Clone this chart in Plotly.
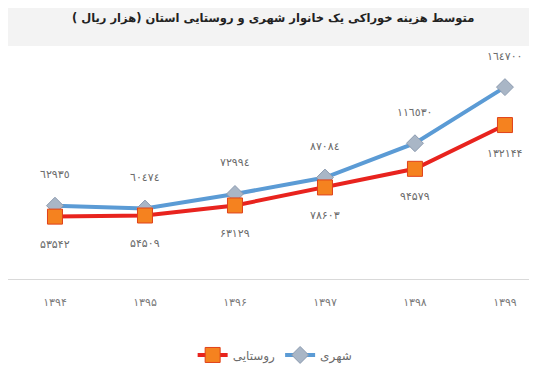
import plotly.graph_objects as go

years = ["۱۳۹۴", "۱۳۹۵", "۱۳۹۶", "۱۳۹۷", "۱۳۹۸", "۱۳۹۹"]
urban = [62935, 60474, 72994, 87084, 116530, 164700]
rural = [53542, 54509, 63129, 78603, 94579, 132144]
urban_name = "شهری"
rural_name = "روستایی"
title = "متوسط هزینه خوراکی یک خانوار شهری و روستایی استان (هزار ریال )"

AR = "٠١٢٣٤٥٦٧٨٩"
FA = "۰۱۲۳۴۵۶۷۸۹"


def to_digits(n, table):
    return "".join(table[int(c)] for c in str(n))


fig = go.Figure()
fig.add_trace(go.Scatter(
    x=years, y=urban, name=urban_name, mode="lines+markers",
    line=dict(color="#5B9BD5", width=4),
    marker=dict(symbol="diamond", size=13, color="#A9B6C6",
                line=dict(color="#8C9BB0", width=1)),
))
fig.add_trace(go.Scatter(
    x=years, y=rural, name=rural_name, mode="lines+markers",
    line=dict(color="#E8231E", width=4),
    marker=dict(symbol="square", size=15, color="#F5821F",
                line=dict(color="#E0401A", width=1)),
))

ann = []
for x, v in zip(years, urban):
    ann.append(dict(x=x, y=v, text=to_digits(v, AR), showarrow=False,
                    yshift=31, font=dict(size=11, color="#6b6b6b")))
for x, v in zip(years, rural):
    ann.append(dict(x=x, y=v, text=to_digits(v, FA), showarrow=False,
                    yshift=-28, font=dict(size=11, color="#6b6b6b")))
ann.append(dict(xref="paper", yref="paper", x=0.5, y=1, yshift=28,
                yanchor="middle", xanchor="center",
                text="<b>" + title + "</b>", showarrow=False,
                font=dict(size=11.5, color="#222")))

fig.update_layout(
    width=529, height=374,
    margin=dict(l=0, r=0, t=38, b=103),
    paper_bgcolor="white", plot_bgcolor="white",
    font=dict(family="DejaVu Sans", color="#6b6b6b"),
    showlegend=True,
    legend=dict(orientation="h", x=0.505, xanchor="center", y=-0.326,
                yanchor="middle", traceorder="reversed",
                font=dict(size=12, color="#6b6b6b")),
    annotations=ann,
    shapes=[dict(type="rect", xref="paper", yref="paper", x0=-0.02, x1=1.01,
                 y0=1, y1=1.2, fillcolor="#f3f3f3",
                 line=dict(width=0), layer="below")],
)
fig.update_xaxes(type="category", range=[-0.522, 5.356], showgrid=False,
                 showline=True, linecolor="#d9d9d9", linewidth=1,
                 ticks="", ticklabelstandoff=13,
                 tickfont=dict(size=11, color="#7a7a7a"))
fig.update_yaxes(range=[0, 200000], visible=False, showgrid=False)

fig.write_html("out.html")
